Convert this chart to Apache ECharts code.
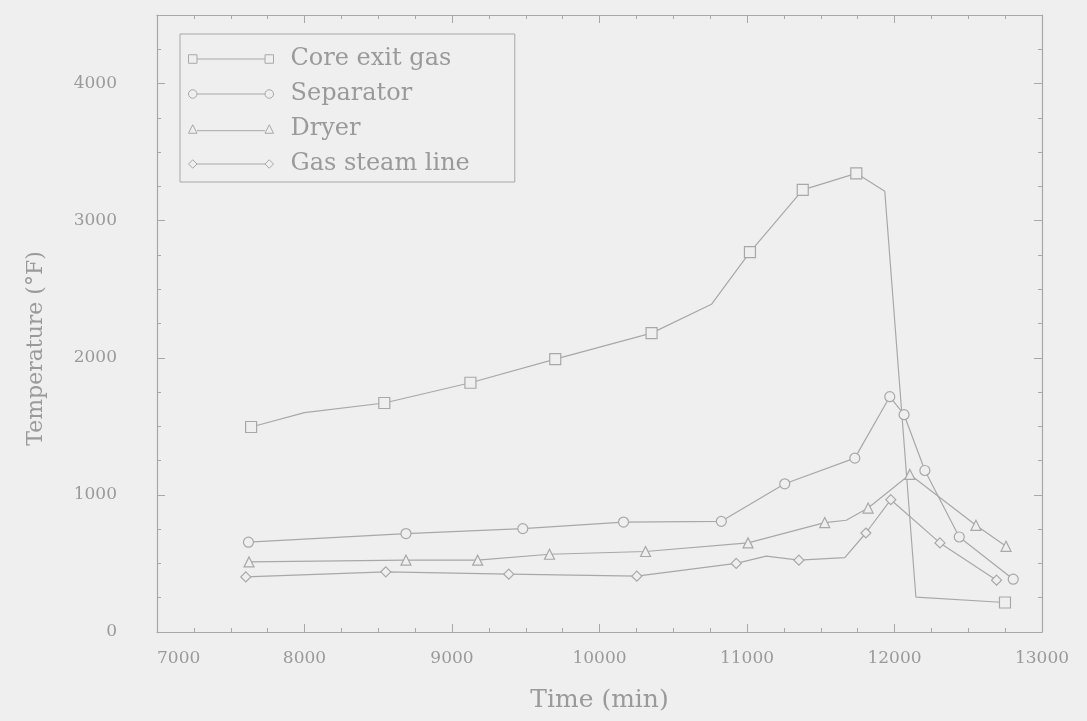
<!DOCTYPE html>
<html>
<head>
<meta charset="utf-8">
<script src="https://cdn.jsdelivr.net/npm/echarts@6/dist/echarts.min.js"></script>
<style>
html,body{margin:0;padding:0;background:#efefef;}
#chart{width:1087px;height:721px;}
</style>
</head>
<body>
<div id="chart"></div>
<script>
// ---- data (time in min, temperature in °F); mark: 1 = plotted symbol, 0 = plain vertex ----
const coreX    = [7638, 8000, 8541, 9125, 9700, 10353, 10759, 11020, 11378, 11741, 11934, 12145, 12749];
const coreY    = [1495, 1600, 1670, 1818, 1990, 2180, 2390, 2770, 3225, 3345, 3215, 255, 215];
const coreMark = [1, 0, 1, 1, 1, 1, 0, 1, 1, 1, 0, 0, 1];

const sepX    = [7620, 8688, 9480, 10163, 10826, 11256, 11731, 11968, 12065, 12206, 12439, 12805];
const sepY    = [655, 718, 754, 802, 807, 1081, 1268, 1716, 1585, 1178, 693, 385];
const sepMark = [1, 1, 1, 1, 1, 1, 1, 1, 1, 1, 1, 1];

const dryX    = [7624, 8688, 9174, 9661, 10312, 11007, 11527, 11673, 11821, 12104, 12552, 12756];
const dryY    = [511, 524, 524, 567, 587, 650, 798, 815, 904, 1149, 778, 625];
const dryMark = [1, 1, 1, 1, 1, 1, 1, 0, 1, 1, 1, 1];

const gasX    = [7602, 8551, 9385, 10253, 10927, 11131, 11352, 11663, 11806, 11975, 12308, 12692];
const gasY    = [402, 439, 422, 407, 500, 553, 524, 543, 722, 965, 650, 378];
const gasMark = [1, 1, 1, 1, 1, 0, 1, 0, 1, 1, 1, 1];

const seriesNames = ['Core exit gas', 'Separator', 'Dryer', 'Gas steam line'];
const xTicks = [7000, 13000, 1000];   // min, max, interval
const yTicks = [0, 4500, 1000];

// ---- style ----
const BG = '#efefef';
const INK = '#9a9a9a';
const LINE = '#a8a8a8';
const FONT = 'DejaVu Serif';

function build(xs, ys, mark) {
  return xs.map((x, i) => mark[i] ? [x, ys[i]] : {value: [x, ys[i]], symbol: 'none'});
}

const symbols = ['rect', 'circle', 'triangle', 'diamond'];
const sizes = [11, 10, 10, 10];
const icons = [
  'path://M0,2H10V12H0Z M10,7H90 M90,2H100V12H90Z',
  'path://M0,7a5,5 0 1,0 10,0a5,5 0 1,0 -10,0Z M10,7H90 M90,7a5,5 0 1,0 10,0a5,5 0 1,0 -10,0Z',
  'path://M0,12L5,2L10,12Z M10,9H90 M90,12L95,2L100,12Z',
  'path://M0,7L5,2L10,7L5,12Z M10,7H90 M90,7L95,2L100,7L95,12Z'
];
const datasets = [
  build(coreX, coreY, coreMark),
  build(sepX, sepY, sepMark),
  build(dryX, dryY, dryMark),
  build(gasX, gasY, gasMark)
];

const chart = echarts.init(document.getElementById('chart'), null, {renderer: 'canvas'});

const tickCommon = {
  axisLine: {show: true, onZero: false, lineStyle: {color: LINE, width: 1.2}},
  axisTick: {show: true, inside: true, length: 8, lineStyle: {color: LINE}},
  minorTick: {show: true, splitNumber: 4, length: 4, lineStyle: {color: LINE}},
  splitLine: {show: false},
  minorSplitLine: {show: false}
};

const option = {
  backgroundColor: BG,
  animation: false,
  grid: {left: 157, right: 45, top: 15, bottom: 89, containLabel: false},
  legend: {
    orient: 'vertical',
    left: 180, top: 34,
    padding: [13, 45, 6, 8],
    borderColor: LINE, borderWidth: 1,
    itemWidth: 85, itemHeight: 12, itemGap: 11,
    data: seriesNames.map((n, i) => ({name: n, icon: icons[i]})),
    itemStyle: {color: BG, borderColor: LINE, borderWidth: 1},
    textStyle: {color: INK, fontFamily: FONT, fontSize: 24, lineHeight: 24, padding: [0, 0, 0, 12]}
  },
  xAxis: [{
    type: 'value', min: xTicks[0], max: xTicks[1], interval: xTicks[2],
    name: 'Time (min)', nameLocation: 'middle', nameGap: 56,
    nameTextStyle: {color: INK, fontFamily: FONT, fontSize: 25},
    axisLabel: {color: INK, fontFamily: FONT, fontSize: 17, margin: 18, alignMinLabel: 'left',
      formatter: v => String(v)},
    ...tickCommon
  }, {
    type: 'value', position: 'top', min: xTicks[0], max: xTicks[1], interval: xTicks[2],
    axisLabel: {show: false},
    ...tickCommon
  }],
  yAxis: [{
    type: 'value', min: yTicks[0], max: yTicks[1], interval: yTicks[2],
    name: 'Temperature (°F)', nameLocation: 'middle', nameRotate: 90, nameGap: 110,
    nameTextStyle: {color: INK, fontFamily: FONT, fontSize: 22, padding: [0, 50, 0, 0]},
    axisLabel: {color: INK, fontFamily: FONT, fontSize: 17, margin: 40, showMaxLabel: false,
      formatter: v => String(v)},
    ...tickCommon
  }, {
    type: 'value', position: 'right', min: yTicks[0], max: yTicks[1], interval: yTicks[2],
    axisLabel: {show: false},
    ...tickCommon
  }],
  series: datasets.map((d, i) => ({
    name: seriesNames[i],
    type: 'line',
    data: d,
    symbol: symbols[i],
    symbolSize: sizes[i],
    showAllSymbol: true,
    lineStyle: {color: LINE, width: 1.2},
    itemStyle: {color: BG, borderColor: LINE, borderWidth: 1.2},
    emphasis: {disabled: true}
  }))
};

chart.setOption(option);
</script>
</body>
</html>
